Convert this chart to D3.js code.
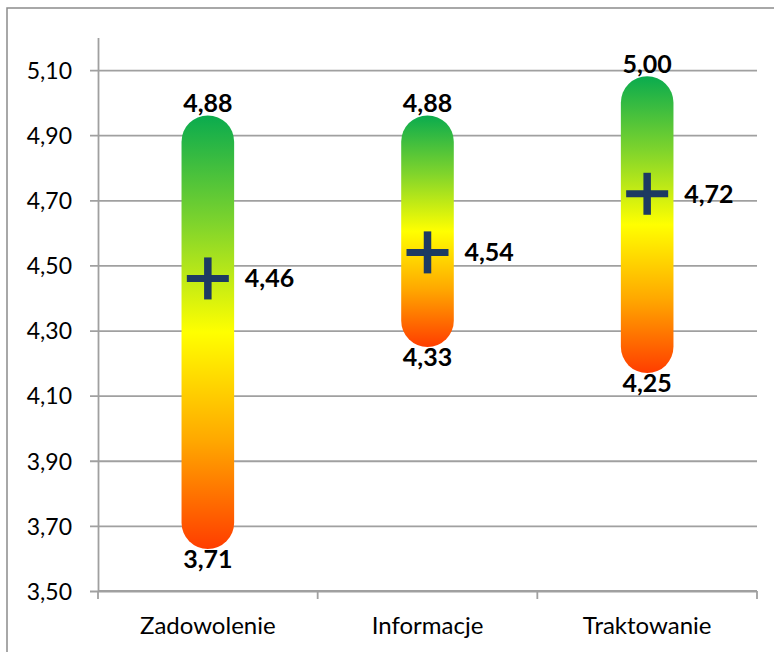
<!DOCTYPE html>
<html>
<head>
<meta charset="utf-8">
<script src="https://cdn.jsdelivr.net/npm/d3@7"></script>
<style>
  html, body { margin: 0; padding: 0; background: #fff; }
  svg { display: block; }
  text { font-family: Lato, "Open Sans", sans-serif; fill: #000; }
</style>
</head>
<body>
<script>
// Ocena: zakres (min–max) i średnia dla każdej kategorii
const categories = ["Zadowolenie", "Informacje", "Traktowanie"];
const minValues  = [3.71, 4.33, 4.25];
const maxValues  = [4.88, 4.88, 5.00];
const meanValues = [4.46, 4.54, 4.72];
const yTicks     = [3.50, 3.70, 3.90, 4.10, 4.30, 4.50, 4.70, 4.90, 5.10];

const W = 774, H = 652;
const fmt = v => d3.format(".2f")(v).replace(".", ",");

const svg = d3.select("body").append("svg")
  .attr("width", W).attr("height", H);

// outer chart frame (runs past the right and bottom edges)
svg.append("rect")
  .attr("x", 7).attr("y", 8)
  .attr("width", 800).attr("height", 700)
  .attr("fill", "none")
  .attr("stroke", "#8c8c8c").attr("stroke-width", 1.5);

const plotLeft = 98, plotRight = 757, plotTop = 37.5, plotBottom = 591;

const y = d3.scaleLinear().domain([3.5, 5.2]).range([plotBottom, plotTop]);
const x = d3.scaleBand().domain(categories).range([plotLeft, plotRight]).padding(0);

// gridlines + y axis
const yAxis = d3.axisLeft(y)
  .tickValues(yTicks)
  .tickSize(-(plotRight - plotLeft))
  .tickSizeOuter(0)
  .tickPadding(0)
  .tickFormat(fmt);

const gy = svg.append("g").attr("transform", `translate(${plotLeft},0)`).call(yAxis);
gy.select(".domain").attr("stroke", "#a0a0a0").attr("stroke-width", 1.8);
gy.selectAll(".tick line")
  .attr("x1", -8)
  .attr("stroke", "#a0a0a0").attr("stroke-width", 1.8);
gy.selectAll(".tick text")
  .attr("x", -26)
  .attr("dy", "0.36em")
  .style("font-family", "Lato, sans-serif")
  .style("font-size", "23px")
  .attr("fill", "#000");

// x axis with tick marks at category boundaries
const gx = svg.append("g").attr("transform", `translate(0,${plotBottom})`);
gx.append("line")
  .attr("x1", plotLeft).attr("x2", plotRight)
  .attr("stroke", "#a0a0a0").attr("stroke-width", 1.8);
const bounds = categories.map(c => x(c)).concat([plotRight]);
gx.selectAll("line.tk").data(bounds).join("line")
  .attr("class", "tk")
  .attr("x1", d => d).attr("x2", d => d)
  .attr("y1", 0).attr("y2", 8)
  .attr("stroke", "#a0a0a0").attr("stroke-width", 1.8);
gx.selectAll("text").data(categories).join("text")
  .attr("x", d => x(d) + x.bandwidth() / 2)
  .attr("y", 43)
  .attr("text-anchor", "middle")
  .style("font-size", "24px")
  .text(d => d);

// vertical gradient green → yellow → red, stretched over each bar
const defs = svg.append("defs");
const grad = defs.append("linearGradient")
  .attr("id", "rangeGrad")
  .attr("x1", 0).attr("y1", 0).attr("x2", 0).attr("y2", 1);
[
  [0.00, "#0aab4e"],
  [0.25, "#7fd42c"],
  [0.50, "#ffff00"],
  [0.75, "#ffa800"],
  [1.00, "#ff3d00"]
].forEach(([o, c]) => grad.append("stop").attr("offset", o).attr("stop-color", c));

const half = 26.3;
const rows = categories.map((c, i) => ({
  cat: c, min: minValues[i], max: maxValues[i], mean: meanValues[i]
}));
const cx = d => x(d.cat) + x.bandwidth() / 2;

const g = svg.append("g");

// rounded range bars
g.selectAll("rect.range").data(rows).join("rect")
  .attr("class", "range")
  .attr("x", d => cx(d) - half)
  .attr("width", half * 2)
  .attr("y", d => y(d.max) - half)
  .attr("height", d => y(d.min) - y(d.max) + 2 * half)
  .attr("rx", half).attr("ry", half)
  .attr("fill", "url(#rangeGrad)");

// mean markers (plus signs)
const arm = 21;
const marks = g.selectAll("g.mean").data(rows).join("g")
  .attr("class", "mean")
  .attr("transform", d => `translate(${cx(d)},${y(d.mean)})`);
marks.append("line")
  .attr("x1", -arm).attr("x2", arm)
  .attr("stroke", "#1d3a62").attr("stroke-width", 7);
marks.append("line")
  .attr("y1", -arm).attr("y2", arm)
  .attr("stroke", "#1d3a62").attr("stroke-width", 7.5);

// value labels
const labelSize = "25px";
g.selectAll("text.max").data(rows).join("text")
  .attr("class", "max")
  .attr("x", d => cx(d))
  .attr("y", d => y(d.max) - half - 3)
  .attr("text-anchor", "middle")
  .style("font-size", labelSize).style("font-weight", "bold")
  .text(d => fmt(d.max));

g.selectAll("text.min").data(rows).join("text")
  .attr("class", "min")
  .attr("x", d => cx(d))
  .attr("y", d => y(d.min) + half + 19)
  .attr("text-anchor", "middle")
  .style("font-size", labelSize).style("font-weight", "bold")
  .text(d => fmt(d.min));

g.selectAll("text.avg").data(rows).join("text")
  .attr("class", "avg")
  .attr("x", d => cx(d) + 37)
  .attr("y", d => y(d.mean))
  .attr("dy", "0.36em")
  .style("font-size", labelSize).style("font-weight", "bold")
  .text(d => fmt(d.mean));
</script>
</body>
</html>
